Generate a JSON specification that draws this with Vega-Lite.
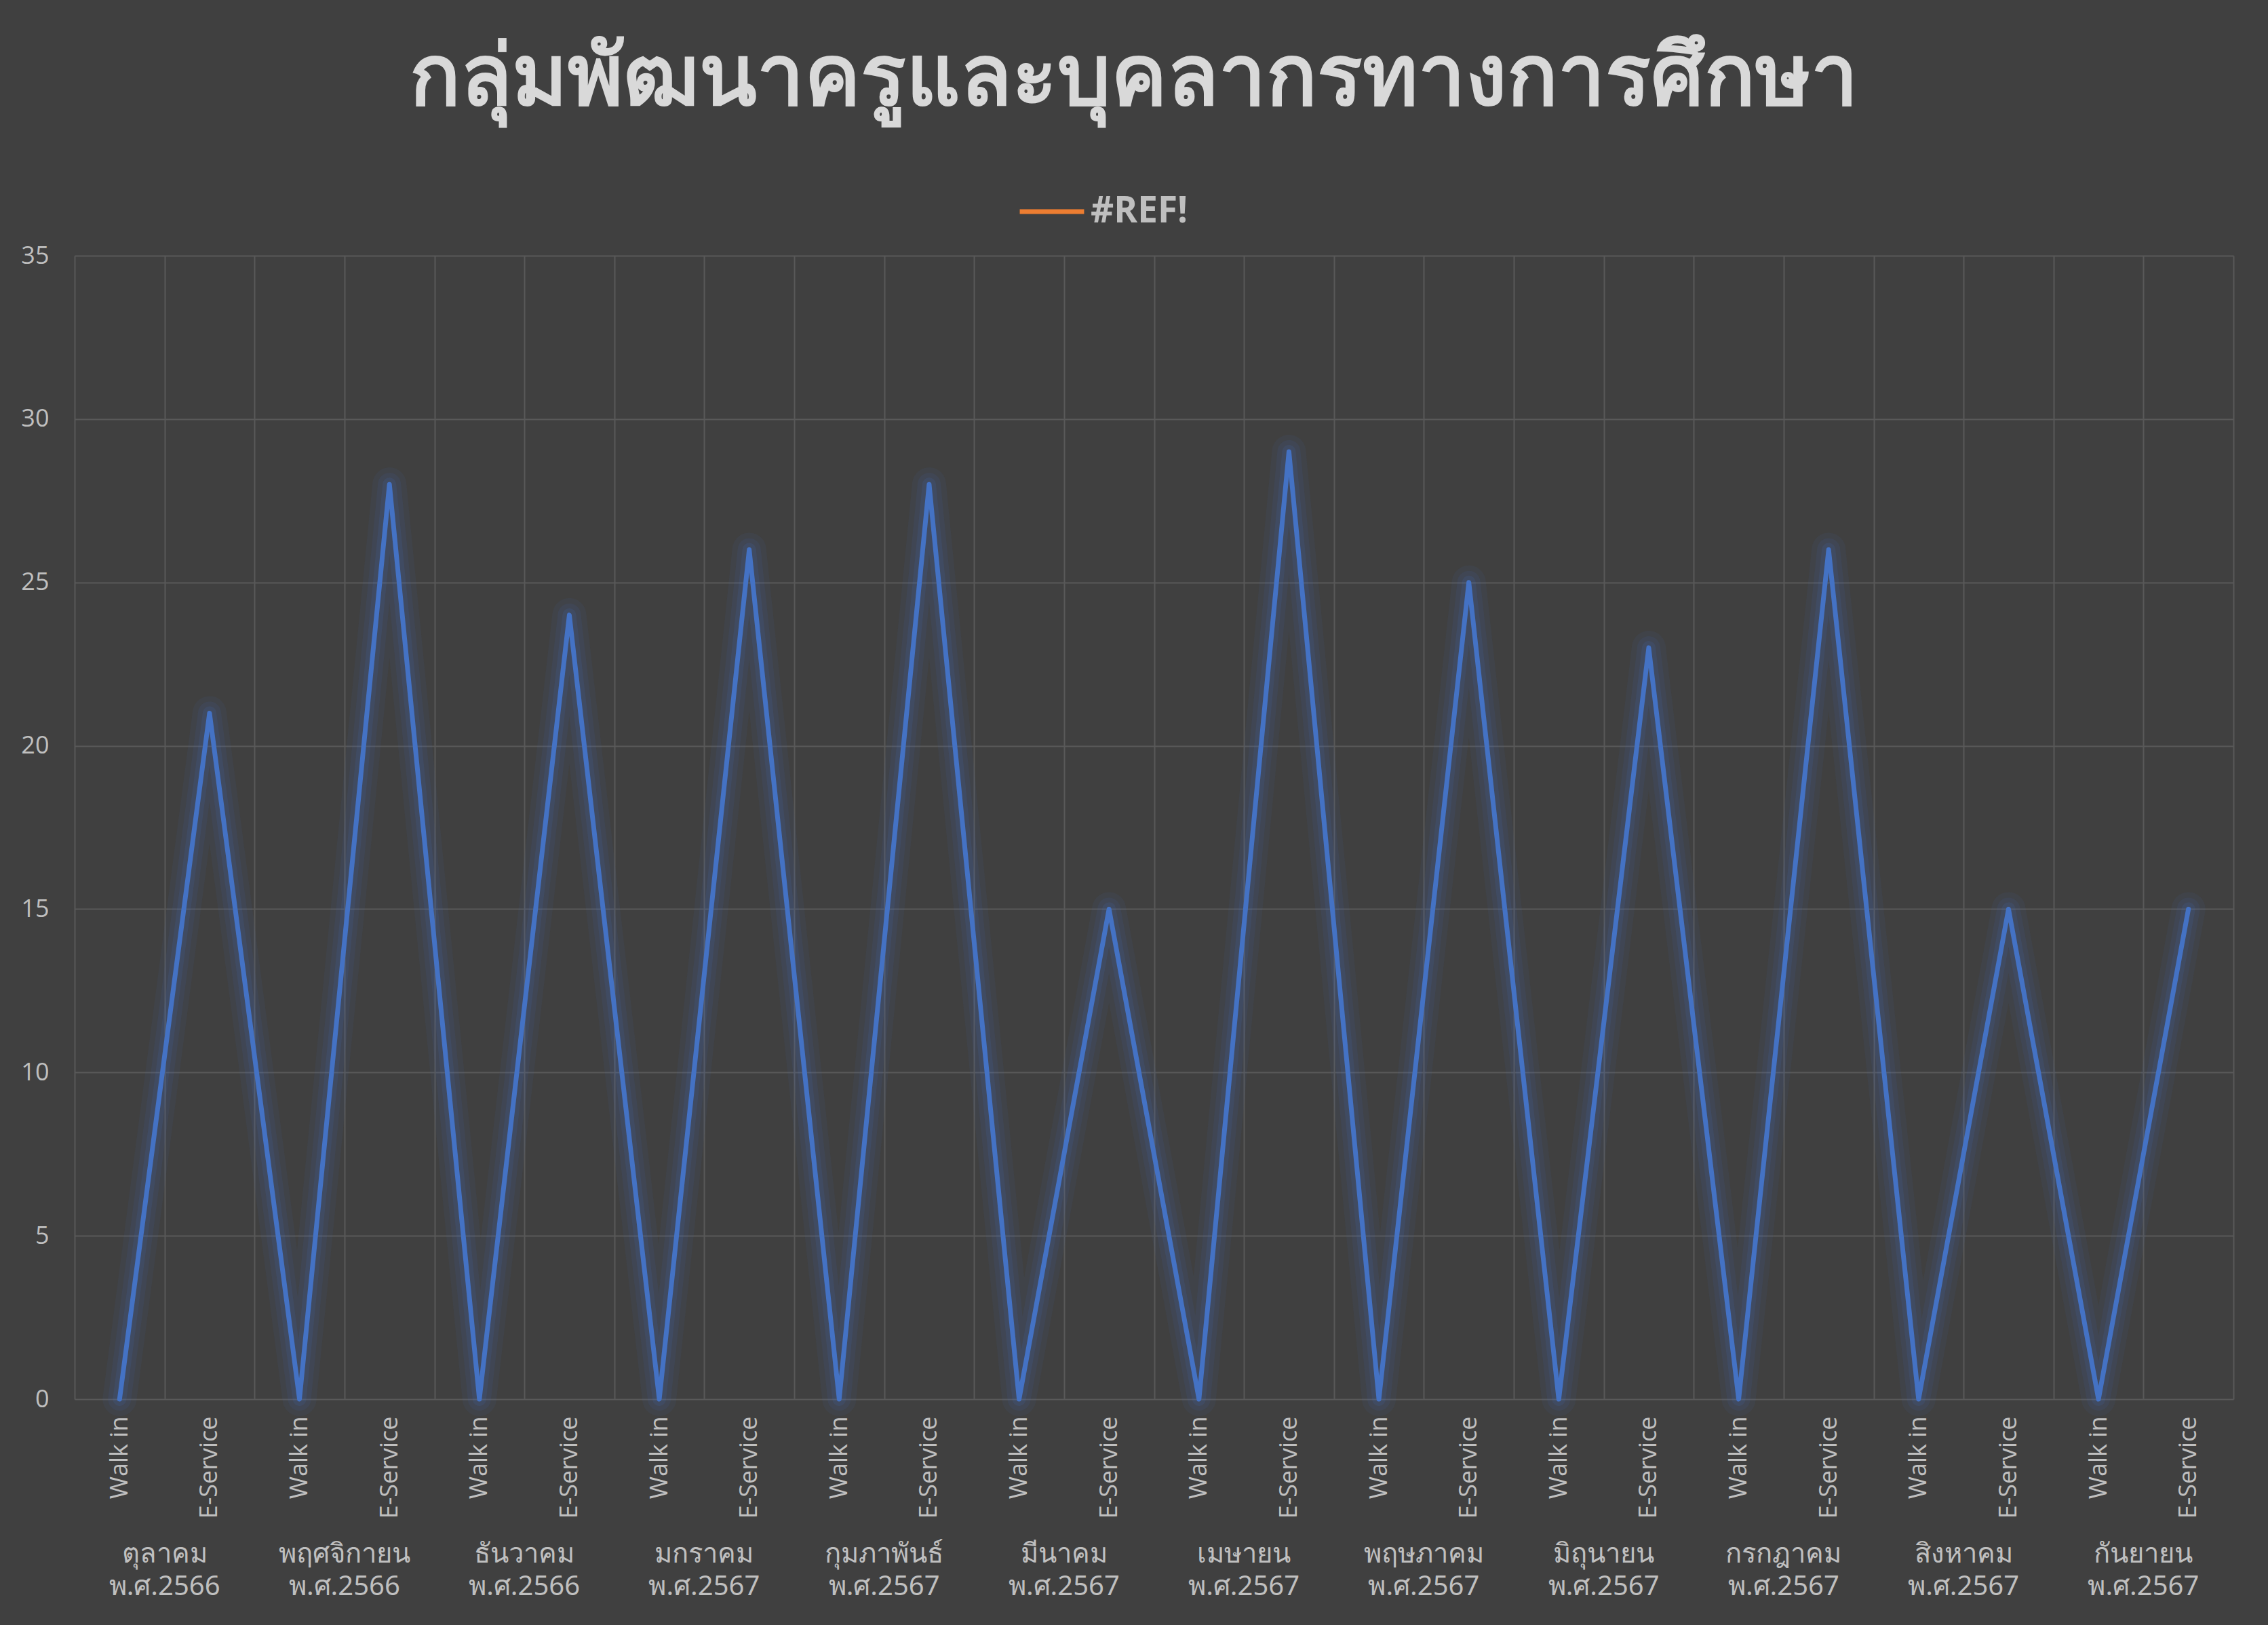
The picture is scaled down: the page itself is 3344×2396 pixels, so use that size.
{
  "$schema": "https://vega.github.io/schema/vega-lite/v6.json",
  "autosize": {"type": "none"},
  "padding": {"left": 110, "top": 377, "right": 51, "bottom": 333},
  "width": 3183,
  "height": 1686,
  "background": "#404040",
  "config": {
    "view": {"stroke": null},
    "font": "Noto Sans"
  },
  "title": {
    "text": "กลุ่มพัฒนาครูและบุคลากรทางการศึกษา",
    "fontSize": 124,
    "fontWeight": "bold",
    "color": "#D9D9D9",
    "anchor": "middle",
    "frame": "group",
    "dx": -30,
    "baseline": "alphabetic",
    "offset": -17
  },
  "data": {
    "values": [
      {"key": "01|Walk in", "month": "ตุลาคม พ.ศ.2566", "type": "Walk in", "value": 0},
      {"key": "01|E-Service", "month": "ตุลาคม พ.ศ.2566", "type": "E-Service", "value": 21},
      {"key": "02|Walk in", "month": "พฤศจิกายน พ.ศ.2566", "type": "Walk in", "value": 0},
      {"key": "02|E-Service", "month": "พฤศจิกายน พ.ศ.2566", "type": "E-Service", "value": 28},
      {"key": "03|Walk in", "month": "ธันวาคม พ.ศ.2566", "type": "Walk in", "value": 0},
      {"key": "03|E-Service", "month": "ธันวาคม พ.ศ.2566", "type": "E-Service", "value": 24},
      {"key": "04|Walk in", "month": "มกราคม พ.ศ.2567", "type": "Walk in", "value": 0},
      {"key": "04|E-Service", "month": "มกราคม พ.ศ.2567", "type": "E-Service", "value": 26},
      {"key": "05|Walk in", "month": "กุมภาพันธ์ พ.ศ.2567", "type": "Walk in", "value": 0},
      {"key": "05|E-Service", "month": "กุมภาพันธ์ พ.ศ.2567", "type": "E-Service", "value": 28},
      {"key": "06|Walk in", "month": "มีนาคม พ.ศ.2567", "type": "Walk in", "value": 0},
      {"key": "06|E-Service", "month": "มีนาคม พ.ศ.2567", "type": "E-Service", "value": 15},
      {"key": "07|Walk in", "month": "เมษายน พ.ศ.2567", "type": "Walk in", "value": 0},
      {"key": "07|E-Service", "month": "เมษายน พ.ศ.2567", "type": "E-Service", "value": 29},
      {"key": "08|Walk in", "month": "พฤษภาคม พ.ศ.2567", "type": "Walk in", "value": 0},
      {"key": "08|E-Service", "month": "พฤษภาคม พ.ศ.2567", "type": "E-Service", "value": 25},
      {"key": "09|Walk in", "month": "มิถุนายน พ.ศ.2567", "type": "Walk in", "value": 0},
      {"key": "09|E-Service", "month": "มิถุนายน พ.ศ.2567", "type": "E-Service", "value": 23},
      {"key": "10|Walk in", "month": "กรกฎาคม พ.ศ.2567", "type": "Walk in", "value": 0},
      {"key": "10|E-Service", "month": "กรกฎาคม พ.ศ.2567", "type": "E-Service", "value": 26},
      {"key": "11|Walk in", "month": "สิงหาคม พ.ศ.2567", "type": "Walk in", "value": 0},
      {"key": "11|E-Service", "month": "สิงหาคม พ.ศ.2567", "type": "E-Service", "value": 15},
      {"key": "12|Walk in", "month": "กันยายน พ.ศ.2567", "type": "Walk in", "value": 0},
      {"key": "12|E-Service", "month": "กันยายน พ.ศ.2567", "type": "E-Service", "value": 15}
    ]
  },
  "layer": [
    {
      "encoding": {
        "x": {
          "field": "key",
          "type": "nominal",
          "sort": null,
          "bandPosition": 0.5,
          "scale": {"type": "band", "paddingInner": 0, "paddingOuter": 0},
          "axis": {
            "title": null,
            "orient": "bottom",
            "labelExpr": "split(datum.value, '|')[1]",
            "labelAngle": 270,
            "labelAlign": "right",
            "labelBaseline": "middle",
            "labelFont": "Open Sans",
            "labelFontSize": 36,
            "labelColor": "#BFBFBF",
            "labelPadding": 25,
            "labelLimit": 0,
            "ticks": false,
            "tickBand": "extent",
            "grid": true,
            "gridColor": "#595959",
            "gridWidth": 2,
            "domain": false
          }
        },
        "y": {
          "field": "value",
          "type": "quantitative",
          "scale": {"domain": [0, 35], "nice": false},
          "axis": {
            "title": null,
            "values": [0, 5, 10, 15, 20, 25, 30, 35],
            "labelFont": "Open Sans",
            "labelFontSize": 36,
            "labelColor": "#BFBFBF",
            "labelPadding": 38,
            "ticks": false,
            "domain": false,
            "gridColor": "#595959",
            "gridWidth": 2
          }
        }
      },
      "layer": [
        {"mark": {"type": "line", "color": "#4472C4", "strokeWidth": 50, "opacity": 0.07, "strokeJoin": "round", "strokeCap": "round"}},
        {"mark": {"type": "line", "color": "#4472C4", "strokeWidth": 34, "opacity": 0.09, "strokeJoin": "round", "strokeCap": "round"}},
        {"mark": {"type": "line", "color": "#4472C4", "strokeWidth": 20, "opacity": 0.13, "strokeJoin": "round", "strokeCap": "round"}},
        {"mark": {"type": "line", "color": "#4472C4", "strokeWidth": 7, "strokeJoin": "round", "strokeCap": "round"}},
        {
          "transform": [{"filter": "false"}],
          "mark": {"type": "line", "strokeWidth": 6},
          "encoding": {
            "color": {
              "datum": "#REF!",
              "scale": {"domain": ["#REF!"], "range": ["#ED7D31"]},
              "legend": {
                "title": null,
                "orient": "none",
                "legendX": 1390,
                "legendY": -116,
                "padding": 0,
                "symbolType": "stroke",
                "symbolSize": 9000,
                "symbolStrokeWidth": 7,
                "symbolStrokeColor": "#ED7D31",
                "labelFont": "Open Sans",
                "labelFontSize": 53,
                "labelFontWeight": "bold",
                "labelColor": "#BFBFBF",
                "labelOffset": 6
              }
            }
          }
        }
      ]
    },
    {
      "mark": {"type": "point", "opacity": 0},
      "encoding": {
        "x": {
          "field": "month",
          "type": "nominal",
          "sort": null,
          "scale": {"type": "band", "paddingInner": 0, "paddingOuter": 0},
          "axis": {
            "title": null,
            "orient": "bottom",
            "labelExpr": "split(datum.value, ' ')",
            "labelAngle": 0,
            "labelAlign": "center",
            "labelBaseline": "top",
            "labelFontSize": 40,
            "labelLineHeight": 48,
            "labelColor": "#BFBFBF",
            "labelPadding": 208,
            "labelLimit": 0,
            "ticks": false,
            "grid": false,
            "domain": false
          }
        },
        "y": {"field": "value", "type": "quantitative"}
      }
    }
  ],
  "resolve": {"scale": {"x": "independent"}, "axis": {"x": "independent"}}
}
